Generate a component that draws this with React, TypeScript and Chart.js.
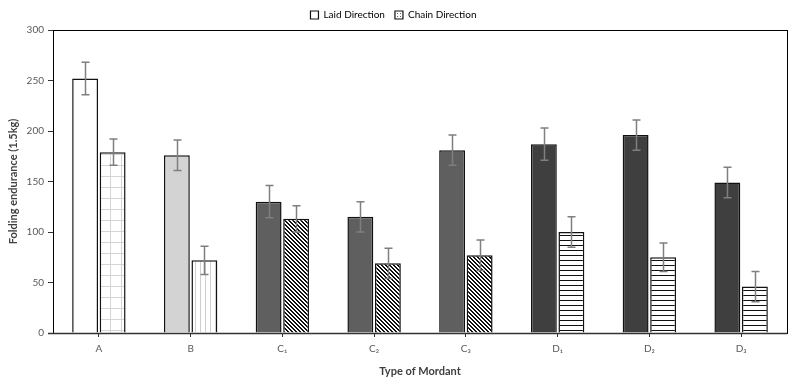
import React, { useEffect, useRef } from "react";
import { Chart, registerables } from "chart.js";

Chart.register(...registerables);

const categories = ["A", "B", "C₁", "C₂", "C₃", "D₁", "D₂", "D₃"];
const laidValues = [252, 176, 130, 115, 181, 187, 196, 149];
const laidErrors = [16, 15, 16, 15, 15, 16, 15, 15];
const chainValues = [179, 72, 113, 69, 77, 100, 75, 46];
const chainErrors = [13, 14, 13, 15, 15, 15, 14, 15];
const yMin = 0;
const yMax = 300;
const yStep = 50;
const seriesNames = ["Laid Direction", "Chain Direction"];

const FONT = "Lato, 'Open Sans', 'Liberation Sans', sans-serif";

function makePattern(size: number, draw: (c: CanvasRenderingContext2D) => void): CanvasPattern {
  const cv = document.createElement("canvas");
  cv.width = size;
  cv.height = size;
  const c = cv.getContext("2d")!;
  c.fillStyle = "#ffffff";
  c.fillRect(0, 0, size, size);
  draw(c);
  return c.createPattern(cv, "repeat")!;
}

export default function App() {
  const ref = useRef<HTMLCanvasElement>(null);

  useEffect(() => {
    const gridPat = makePattern(11, (c) => {
      c.fillStyle = "#d4d4d4";
      c.fillRect(0, 0, 11, 1);
      c.fillRect(0, 0, 1, 11);
    });
    const vertPat = makePattern(5, (c) => {
      c.fillStyle = "#cfcfcf";
      c.fillRect(0, 0, 1, 5);
    });
    const diagPat = makePattern(4, (c) => {
      c.fillStyle = "#111111";
      for (let i = 0; i < 4; i++) {
        c.fillRect(i, i, 1, 1);
        c.fillRect((i + 1) % 4, i, 1, 1);
      }
    });
    const horizPat = makePattern(5, (c) => {
      c.fillStyle = "#111111";
      c.fillRect(0, 0, 5, 1);
    });
    const dotPat = makePattern(3, (c) => {
      c.fillStyle = "#666666";
      c.fillRect(1, 1, 1, 1);
    });

    const laidColors = ["#ffffff", "#d3d3d3", "#5f5f5f", "#5f5f5f", "#5f5f5f", "#3f3f3f", "#3f3f3f", "#3f3f3f"];
    const chainColors = [gridPat, vertPat, diagPat, diagPat, diagPat, horizPat, horizPat, horizPat];

    const errors = [laidErrors, chainErrors];

    const errorPlugin = {
      id: "errorBars",
      afterDatasetsDraw(chart: any) {
        const ctx = chart.ctx;
        const y = chart.scales.y;
        ctx.save();
        ctx.strokeStyle = "#7f7f7f";
        ctx.lineWidth = 1.5;
        chart.data.datasets.forEach((ds: any, di: number) => {
          const meta = chart.getDatasetMeta(di);
          meta.data.forEach((el: any, i: number) => {
            const v = ds.data[i];
            const e = errors[di][i];
            const yt = y.getPixelForValue(v + e);
            const yb = y.getPixelForValue(v - e);
            const x = Math.round(el.x) + 0.5;
            ctx.beginPath();
            ctx.moveTo(x, yt);
            ctx.lineTo(x, yb);
            ctx.moveTo(x - 4, yt);
            ctx.lineTo(x + 4, yt);
            ctx.moveTo(x - 4, yb);
            ctx.lineTo(x + 4, yb);
            ctx.stroke();
          });
        });
        ctx.restore();
      },
    };

    const framePlugin = {
      id: "frame",
      afterDatasetsDraw(chart: any) {
        const { left, right, top, bottom } = chart.chartArea;
        const ctx = chart.ctx;
        ctx.save();
        ctx.strokeStyle = "#000000";
        ctx.lineWidth = 1;
        ctx.strokeRect(Math.round(left) + 0.5, Math.round(top) + 0.5, Math.round(right - left), Math.round(bottom - top));
        ctx.strokeStyle = "#333333";
        ctx.lineWidth = 1.5;
        ctx.beginPath();
        ctx.moveTo(left - 5, Math.round(bottom) + 0.5);
        ctx.lineTo(right, Math.round(bottom) + 0.5);
        ctx.stroke();
        ctx.restore();
      },
    };

    const chart = new Chart(ref.current!, {
      type: "bar",
      data: {
        labels: categories,
        datasets: [
          {
            label: seriesNames[0],
            data: laidValues,
            backgroundColor: laidColors,
            borderColor: "#111111",
            borderWidth: 1.5,
            barPercentage: 0.94,
            categoryPercentage: 0.6,
          },
          {
            label: seriesNames[1],
            data: chainValues,
            backgroundColor: chainColors as any,
            borderColor: "#111111",
            borderWidth: 1.5,
            barPercentage: 0.94,
            categoryPercentage: 0.6,
          },
        ],
      },
      options: {
        responsive: false,
        animation: false,
        layout: { padding: { left: 0, right: 5, top: 0, bottom: 0 } },
        plugins: {
          legend: {
            position: "top",
            labels: {
              boxWidth: 8,
              boxHeight: 8,
              padding: 10,
              color: "#404040",
              font: { family: FONT, size: 10 },
              generateLabels: () => [
                { text: seriesNames[0], fillStyle: "#ffffff", strokeStyle: "#111111", lineWidth: 1.2, datasetIndex: 0, hidden: false } as any,
                { text: seriesNames[1], fillStyle: dotPat, strokeStyle: "#111111", lineWidth: 1.2, datasetIndex: 1, hidden: false } as any,
              ],
            },
          },
          tooltip: { enabled: false },
        },
        scales: {
          x: {
            grid: { display: true, drawOnChartArea: false, drawTicks: true, tickLength: 4, offset: false, color: "#333333" },
            border: { display: false },
            ticks: { color: "#595959", font: { family: FONT, size: 10 }, padding: 6, maxRotation: 0 },
            title: { display: true, text: "Type of Mordant", color: "#404040", font: { family: FONT, size: 11, weight: "bold" }, padding: { top: 2, bottom: 4 } },
            afterFit: (s: any) => { s.height = 49; },
          },
          y: {
            min: yMin,
            max: yMax,
            grid: { display: true, drawOnChartArea: false, drawTicks: true, tickLength: 5, color: "#333333" },
            border: { display: false },
            ticks: { stepSize: yStep, color: "#595959", font: { family: FONT, size: 10 }, padding: 4 },
            title: { display: true, text: "Folding endurance (1.5kg)", color: "#404040", font: { family: FONT, size: 11, weight: "bold" }, padding: { top: 7, bottom: 2 } },
            afterFit: (s: any) => { s.width = 53; },
          },
        },
      },
      plugins: [errorPlugin, framePlugin],
    });
    return () => chart.destroy();
  }, []);

  return (
    <div style={{ position: "absolute", left: 0, top: 0, width: 792, height: 382, background: "#ffffff" }}>
      <canvas ref={ref} width={792} height={382} />
    </div>
  );
}
